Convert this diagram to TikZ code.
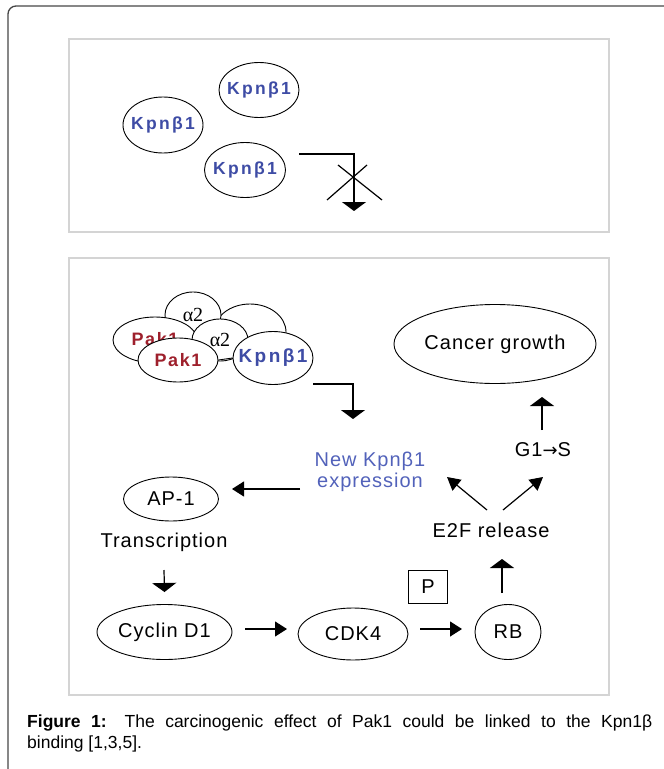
\documentclass[tikz,border=0pt]{standalone}
\usepackage{fontspec}
\setmainfont{Liberation Sans}
\newfontfamily\dfont{Liberation Sans}[LetterSpace=5]
\newfontfamily\kfont{Liberation Sans}[LetterSpace=13]
\newfontfamily\pfont{Liberation Sans}[LetterSpace=9]
\newfontfamily\afont{Liberation Serif}
\newfontfamily\arrfont{DejaVu Sans}
\usetikzlibrary{shapes.geometric,arrows.meta,calc}
\definecolor{kblue}{RGB}{62,76,165}
\definecolor{kblue2}{RGB}{82,98,186}
\definecolor{pred}{RGB}{158,32,44}
\definecolor{panelgray}{RGB}{212,212,212}
\definecolor{framegray}{RGB}{70,70,70}
\newcommand{\zw}[1]{\makebox[0pt]{#1}}
\begin{document}
\begin{tikzpicture}[x=1bp,y=-1bp,
  ell/.style={draw=black,line width=0.9bp,ellipse,fill=white,inner sep=0pt},
  lbl/.style={font=\fontsize{20bp}{21bp}\dfont},
  txt/.style={lbl,inner sep=0pt},
  kpnlbl/.style={text=kblue,font=\fontsize{17.5bp}{20bp}\kfont\bfseries},
  kpnlblB/.style={text=kblue,font=\fontsize{19bp}{20bp}\kfont\bfseries},
  paklbl/.style={text=pred,font=\fontsize{18bp}{20bp}\pfont\bfseries},
  albl/.style={font=\fontsize{20bp}{20bp}\afont},
  conn/.style={line width=1.2bp},
  harr/.style={conn,-{Triangle[length=12bp,width=15bp]}},
  varr/.style={conn,-{Triangle[length=9bp,width=24bp]}},
  darr/.style={conn,-{Triangle[length=13bp,width=14bp]}},
  panel/.style={draw=panelgray,line width=2bp}
]
\useasboundingbox (0,0) rectangle (664,769);
% outer frame and panels
\draw[framegray,line width=1.3bp,rounded corners=8bp] (8,769) -- (8,6) -- (664,6);
\draw[panel] (69,39) rectangle (609,232);
\draw[panel] (69,258) rectangle (609,695);

% ---- top panel
\node[ell,kpnlbl,minimum width=80bp,minimum height=55bp] (tk1) at (259,90) {\zw{Kpnβ1}};
\node[ell,kpnlbl,minimum width=80bp,minimum height=56bp] (tk2) at (163,125) {\zw{Kpnβ1}};
\node[ell,kpnlbl,minimum width=81bp,minimum height=55bp] (tk3) at (245,170) {\zw{Kpnβ1}};
\coordinate (tstop) at (354,211);
\draw[varr] ($(tk3)+(54,-16)$) -| (tstop);
\draw[conn] (338,165) -- (382,200);
\draw[conn] (327,200) -- (367,165);

% ---- bottom panel: complex
\node[ell,minimum width=72bp,minimum height=56bp] (cbig) at (250,332) {};
\node[ell,albl,minimum width=56bp,minimum height=46bp] (a2t) at (193,315) {\zw{\raisebox{1bp}{α2}}};
\node[ell,paklbl,minimum width=84bp,minimum height=46bp] (pkb) at (155,340) {\zw{\raisebox{3bp}{Pak1}}};
\node[ell,albl,minimum width=56bp,minimum height=42bp] (a2m) at (220,340) {\zw{α2}};
\node[ell,paklbl,minimum width=80bp,minimum height=44bp] (pkf) at (178,360) {\zw{Pak1}};
\node[ell,kpnlblB,minimum width=80bp,minimum height=53bp] (kpn) at (273,358) {\zw{Kpnβ1}};
\draw[line width=0.9bp] (pkf.east) -- (kpn.west);
\coordinate (bstop) at (353,419);
\draw[varr] ($(kpn)+(40,26)$) -| (bstop);

% ---- pathway
\node[ell,lbl,minimum width=202bp,minimum height=79bp] (cancer) at (495,344) {\zw{Cancer growth}};
\node[txt] (g1s) at (543,450) {G1{\arrfont\fontsize{18bp}{20bp}\selectfont →}S};
\draw[varr] ($(g1s)+(-1,-20)$) -- ($(cancer)+(47,53)$);
\node[txt,align=center,text=kblue2] (newkpn) at (370,472) {New Kpnβ1\\expression};
\node[ell,lbl,minimum width=95bp,minimum height=44bp] (ap1) at (171,499) {\zw{AP-1}};
\draw[harr] ($(newkpn)+(-70,17)$) -- ($(ap1)+(61,-10)$);
\node[txt] (trans) at (164,542) {Transcription};
\node[ell,lbl,minimum width=135bp,minimum height=55bp] (cyc) at (164.5,632) {\zw{Cyclin D1}};
\draw[varr] ($(trans)+(0,28)$) -- ($(cyc)+(0,-40)$);
\node[ell,lbl,minimum width=110bp,minimum height=52bp] (cdk4) at (353,634) {\zw{CDK4}};
\draw[harr] ($(cyc)+(80.5,-3)$) -- ($(cdk4)+(-66,-5)$);
\node[ell,lbl,minimum width=66bp,minimum height=55bp] (rb) at (508,632) {\zw{RB}};
\draw[harr] ($(cdk4)+(67,-5)$) -- ($(rb)+(-46,-3)$);
\node[draw,line width=1bp,lbl,inner sep=0pt,minimum width=39bp,minimum height=33bp] (pbox) at (428,587) {P};
\node[txt] (e2f) at (491,530) {E2F release};
\draw[varr] ($(rb)+(-6,-39)$) -- ($(e2f)+(11,29)$);
\draw[darr] ($(e2f)+(-4,-20)$) -- ($(newkpn)+(77,5)$);
\draw[darr] ($(e2f)+(12,-20)$) -- ($(g1s)+(0,27)$);

% ---- caption
\node[anchor=north west,inner sep=0pt,text width=625bp,align=justify,
      font=\fontsize{17.5bp}{21bp}\selectfont] (cap) at (27,715)
  {\textbf{Figure 1:} The carcinogenic effect of Pak1 could be linked to the Kpn1β\linebreak binding [1,3,5].};
\end{tikzpicture}
\end{document}
